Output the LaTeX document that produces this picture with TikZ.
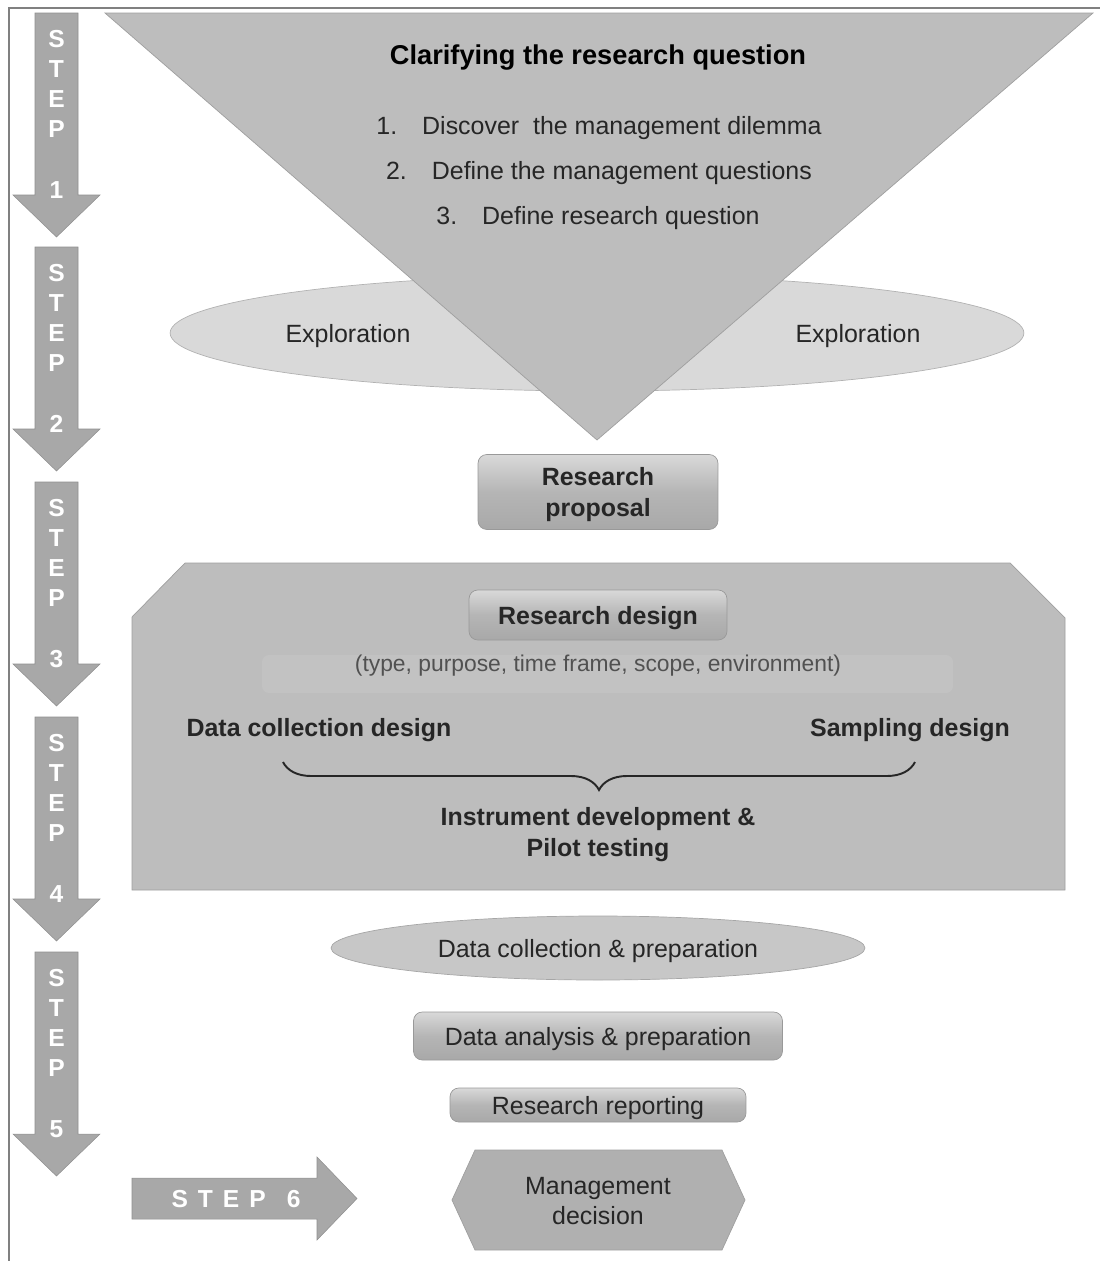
\documentclass[tikz,border=0pt]{standalone}
\usepackage{fontspec}
\setmainfont{Liberation Sans}
\usetikzlibrary{shapes.geometric,decorations.pathreplacing}

\definecolor{boxgray}{HTML}{BDBDBD}
\definecolor{palegray}{HTML}{D9D9D9}
\definecolor{arrowgray}{HTML}{A8A8A8}
\definecolor{framegray}{HTML}{808080}
\definecolor{inkgray}{HTML}{262626}

\tikzset{
  {frame/.style} ={draw=framegray,line width=1.6pt},
  {step arrow/.style} ={fill=arrowgray,draw=arrowgray!85!black,line width=0.3pt},
  {step text/.style} ={text=white,font=\fontsize{14}{17}\selectfont\bfseries,
                align=center,inner sep=0},
  {funnel/.style} ={fill=boxgray,draw=gray!75,line width=0.4pt},
  {panel/.style} ={fill=boxgray,draw=gray!75,line width=0.4pt},
  {plain/.style} ={text=inkgray,font=\fontsize{14.2}{17.6}\selectfont},
  {bold/.style} ={plain,font=\fontsize{14.2}{17.6}\selectfont\bfseries},
  {title/.style} ={plain,font=\fontsize{15.5}{18}\selectfont\bfseries,text=black},
  {small/.style} ={plain,font=\fontsize{13}{15}\selectfont,text=inkgray!80},
  {band/.style} ={fill=white,opacity=.08,rounded corners=4pt},
  {button/.style} ={plain,rectangle,rounded corners=5pt,draw=gray!80,
                line width=0.4pt,top color=gray!30,bottom color=gray!68,
                middle color=gray!58,text depth=0pt},
  {pill/.style} ={plain,ellipse,fill=palegray!80!gray,draw=gray!70,text depth=0pt,
                line width=0.4pt,minimum width=10.68cm,minimum height=1.28cm},
  {explore/.style} ={ellipse,fill=palegray,draw=gray!60,line width=0.4pt,
                minimum width=17.08cm,minimum height=2.32cm},
  {brace/.style} ={draw=inkgray,line width=1.1pt,decorate,
                decoration={brace,amplitude=0.56cm,aspect=0.5}},
}

\begin{document}
\begin{tikzpicture}[x=0.02cm,y=-0.02cm]
  \useasboundingbox (0,0) rectangle (1100,1261);
  \draw[frame] (9,1261) -- (9,8) -- (1100,8);

  % step arrows down the left side
  \foreach \n/\y in {1/13,2/247,3/482,4/717,5/952}{
    \filldraw[step arrow] (35,\y) -- (78,\y) -- (78,\y+182) -- (100,\y+182)
      -- (56.5,\y+224) -- (13,\y+182) -- (35,\y+182) -- cycle;
    \node[step text] (step\n) at (56.5,\y+71) {S\\T\\E\\P};
    \node[step text] (num\n) at (56.5,\y+177) {\n};
  }
  \filldraw[step arrow] (132,1178) -- (317,1178) -- (317,1157) -- (357,1198.5)
    -- (317,1240) -- (317,1219) -- (132,1219) -- cycle;
  \node[step text] (step6) at (236,1199)
    {S\hspace{0.2cm}T\hspace{0.2cm}E\hspace{0.2cm}P\hspace{0.42cm}6};

  % exploration behind the funnel
  \node[explore] (explore) at (597,333) {};
  \filldraw[funnel] (105,13) -- (1093,13) -- (597,440) -- cycle;
  \node[plain] (exploreL) at (348,336) {Exploration};
  \node[plain] (exploreR) at (858,336) {Exploration};

  \node[title] (clarify) at (598,58) {Clarifying the research question};
  \node[plain] (task1) at (599,128) {1.\hspace{0.5cm}Discover\ \ the management dilemma};
  \node[plain] (task2) at (599,173) {2.\hspace{0.5cm}Define the management questions};
  \node[plain] (task3) at (598,218) {3.\hspace{0.5cm}Define research question};

  \node[button,bold,align=center,minimum width=4.8cm,minimum height=1.5cm]
    (proposal) at (598,492) {Research\\proposal};

  % design panel
  \filldraw[panel] (132,617) -- (185,563) -- (1010,563) -- (1065,618)
    -- (1065,890) -- (132,890) -- cycle;
  \node[button,bold,minimum width=5.16cm,minimum height=1cm]
    (design) at (598,615) {Research design};
  \fill[band] (262,655) rectangle (953,693);
  \node[small] (aspects) at (598,666) {(type, purpose, time frame, scope, environment)};
  \node[bold] (collectdesign) at (319,730) {Data collection design};
  \node[bold] (sampledesign) at (910,730) {Sampling design};
  \draw[brace] (915,762) -- (283,762);
  \node[bold,align=center] (instrument) at (598,835)
    {Instrument development \&\\Pilot testing};

  \node[pill] (collect) at (598,948) {Data collection \& preparation};
  \node[button,minimum width=7.38cm,minimum height=0.96cm]
    (analysis) at (598,1036) {Data analysis \& preparation};
  \node[button,minimum width=5.92cm,minimum height=0.68cm]
    (reporting) at (598,1105) {Research reporting};

  \filldraw[panel,fill=gray!62] (475,1150) -- (722,1150) -- (745,1200)
    -- (722,1250) -- (475,1250) -- (452,1200) -- cycle;
  \node[plain,align=center] (decision) at (598,1201) {Management\\decision};
\end{tikzpicture}
\end{document}
